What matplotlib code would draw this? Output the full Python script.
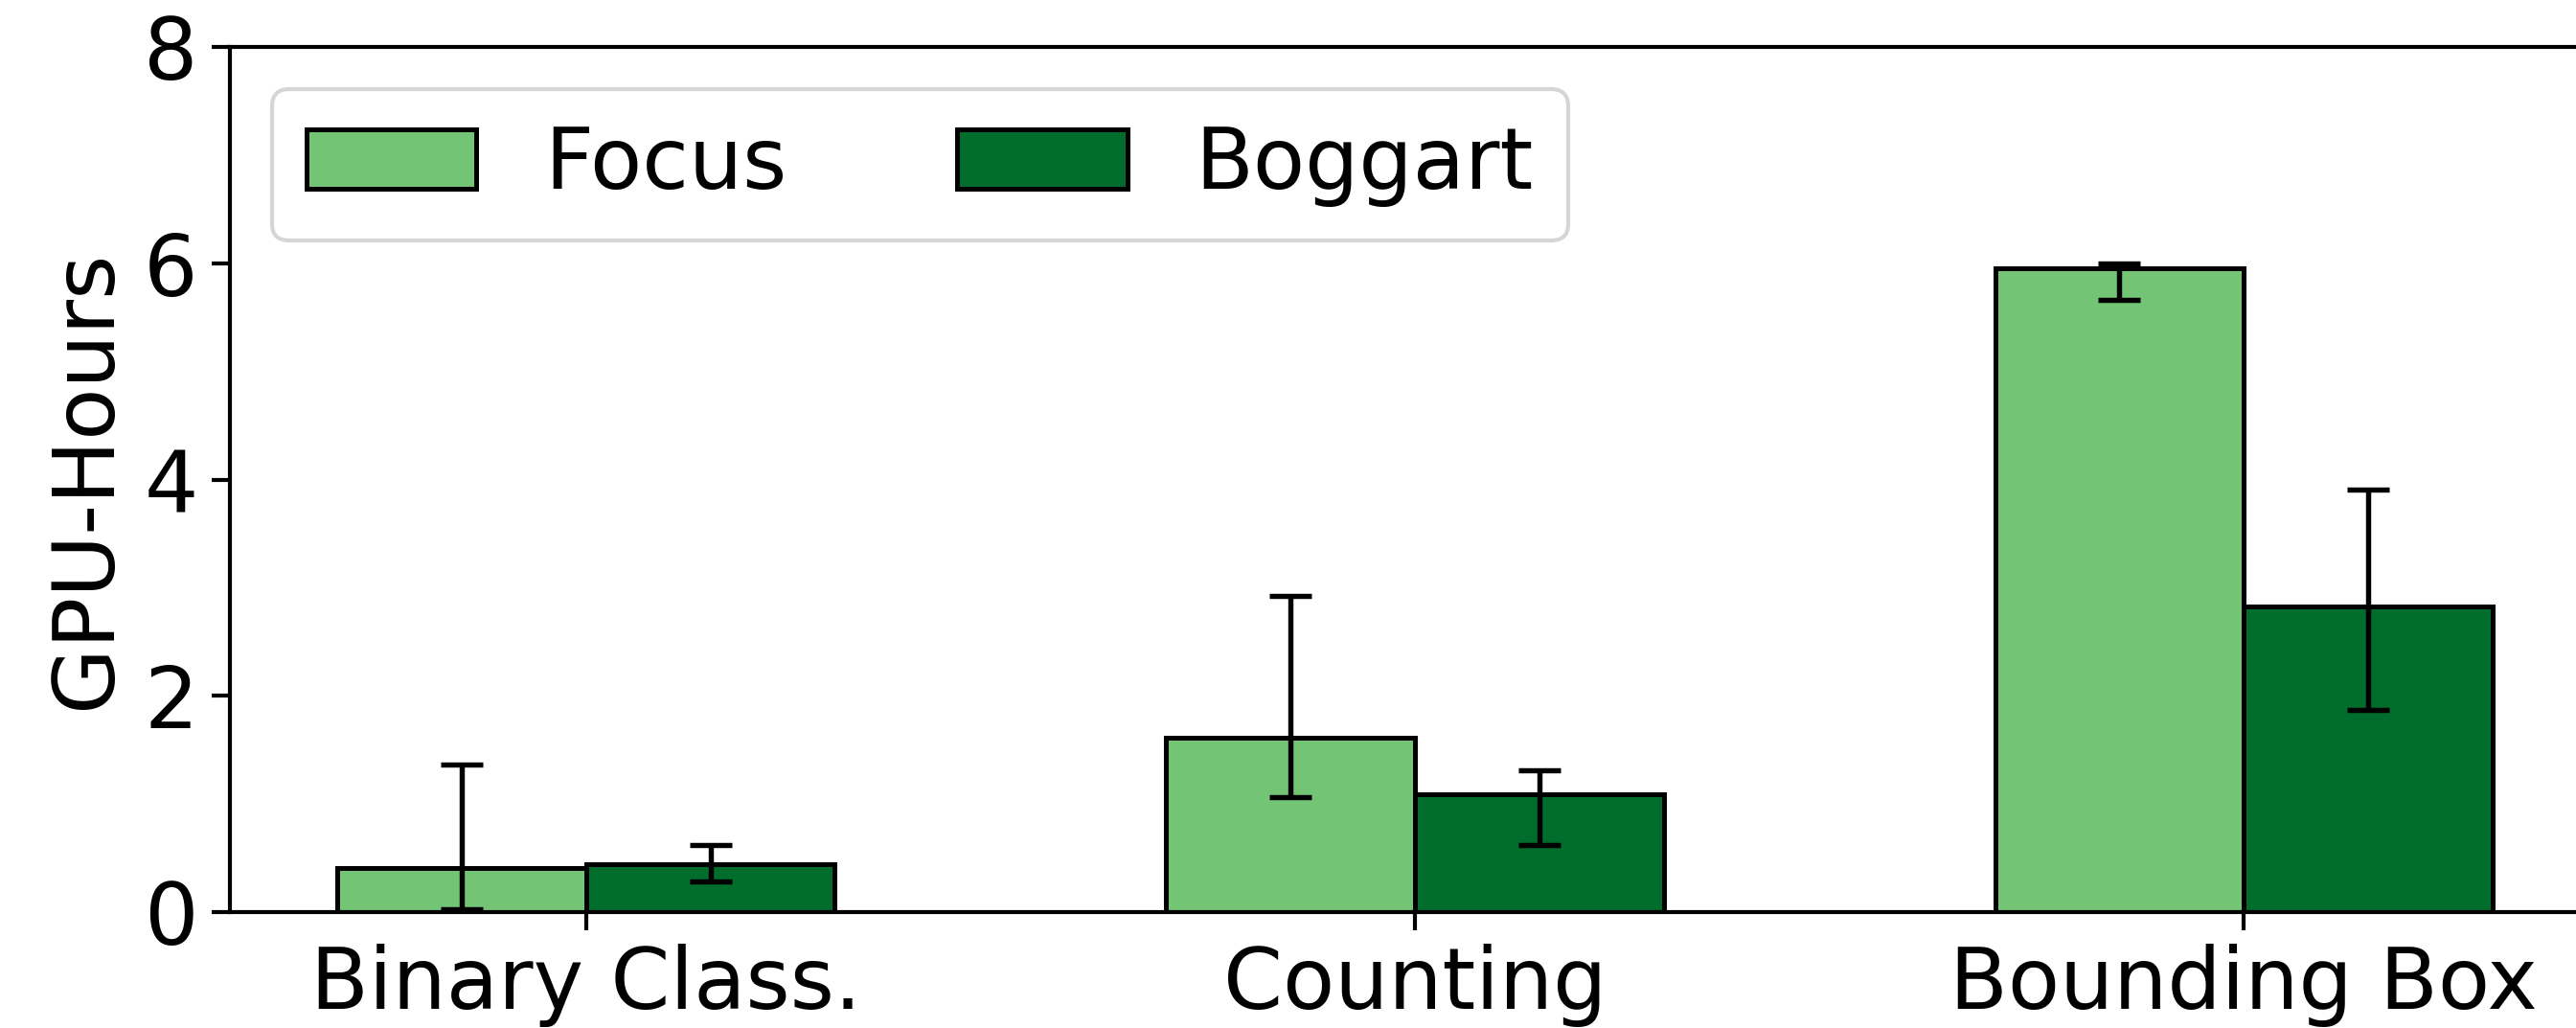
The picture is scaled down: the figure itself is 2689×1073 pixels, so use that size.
import matplotlib
matplotlib.use("Agg")
import matplotlib.pyplot as plt
import numpy as np

# Query types and measured GPU-hours
categories = ["Binary Class.", "Counting", "Bounding Box"]
focus_hours = [0.41, 1.61, 5.95]
boggart_hours = [0.44, 1.09, 2.83]
# Error bar extents (lower bound, upper bound)
focus_low = [0.03, 1.06, 5.66]
focus_high = [1.36, 2.92, 6.00]
boggart_low = [0.28, 0.62, 1.87]
boggart_high = [0.62, 1.31, 3.91]
yticks = [0, 2, 4, 6, 8]

focus_color = "#74c476"
boggart_color = "#006d2c"

plt.rcParams["font.size"] = 21.3

fig = plt.figure(figsize=(2689 / 300, 1073 / 300), dpi=300)
ax = fig.add_axes([240 / 2689, 1 - 952 / 1073, (2714 - 240) / 2689, (952 - 49) / 1073])

x = np.arange(len(categories))
width = 0.3

f = np.array(focus_hours)
b = np.array(boggart_hours)
f_err = [f - np.array(focus_low), np.array(focus_high) - f]
b_err = [b - np.array(boggart_low), np.array(boggart_high) - b]

err_kw = dict(elinewidth=1.3, capthick=1.3, ecolor="black")
ax.bar(x - width / 2, f, width, color=focus_color, edgecolor="black", linewidth=1.2,
       yerr=f_err, capsize=5.3, error_kw=err_kw, label="Focus")
ax.bar(x + width / 2, b, width, color=boggart_color, edgecolor="black", linewidth=1.2,
       yerr=b_err, capsize=5.3, error_kw=err_kw, label="Boggart")

ax.set_xlim(-0.43, 2.43)
ax.set_ylim(0, 8)
ax.set_yticks(yticks)
ax.set_xticks(x)
ax.set_xticklabels(categories)
ax.set_ylabel("GPU-Hours")
ax.tick_params(axis="both", length=4.5, width=1.0)
for s in ax.spines.values():
    s.set_linewidth(1.0)

ax.legend(loc="upper left", ncol=2, fontsize=21.3)

fig.savefig("out.png", dpi=300)
